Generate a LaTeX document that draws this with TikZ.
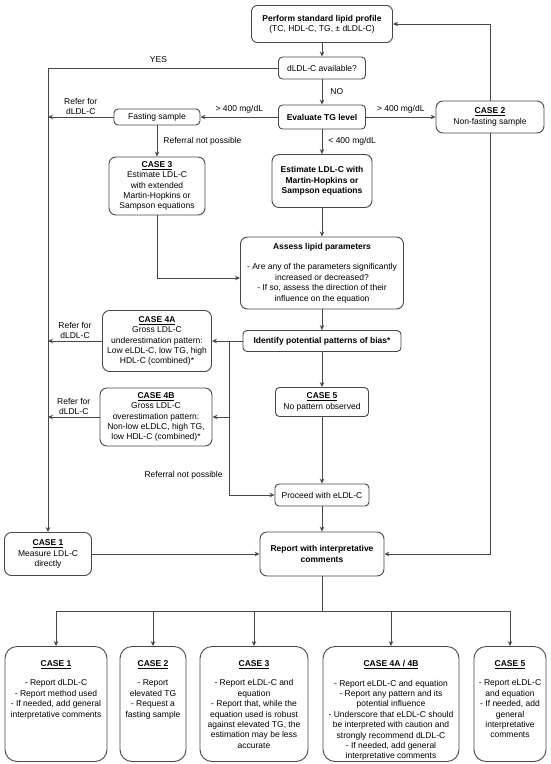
\documentclass[tikz,border=0pt]{standalone}
\usepackage{fontspec}
\setmainfont{Liberation Sans}
\usetikzlibrary{arrows.meta}

\newcommand{\casehead}[1]{\underline{\textbf{#1}}}
\newcommand{\outtext}[2]{\parbox[c][108pt][t]{#1}{\centering\vspace*{10.5pt}#2}}

\begin{document}
\begin{tikzpicture}[x=1pt,y=-1pt,
                    line width=0.9pt,
                    every node/.style={font=\fontsize{8.5}{10.4}\selectfont},
                    box/.style={draw=black!72,rounded corners=4pt,align=center,inner sep=2pt},
                    casebox/.style={box,rounded corners=7pt},
                    outbox/.style={draw=black!72,rounded corners=12pt,inner sep=3pt,minimum height=115pt},
                    arr/.style={draw=black!72,-{Stealth[length=5pt,width=4.5pt]}},
                    lbl/.style={align=center,inner sep=2pt}
                ]
                \useasboundingbox (0,0) rectangle (550,764);

                % The main column
                \node[box,minimum width=141pt,minimum height=37pt,rounded corners=6pt] (profile) at (322,24) {\textbf{Perform standard lipid profile}\\(TC, HDL-C, TG, ± dLDL-C)};
                \node[box,minimum width=87pt,minimum height=22pt] (dldl) at (322,68) {dLDL-C available?};
                \node[box,minimum width=87pt,minimum height=24pt] (tg) at (322,117) {\textbf{Evaluate TG level}};
                \node[casebox,minimum width=100pt,minimum height=53pt] (estimate) at (322,181) {\textbf{Estimate LDL-C with}\\\textbf{Martin-Hopkins or}\\\textbf{Sampson equations}};
                \node[casebox,minimum width=163pt,minimum height=72pt] (assess) at (322,273) {\textbf{Assess lipid parameters}\\[10pt]- Are any of the parameters significantly\\increased or decreased?\\- If so, assess the direction of their\\influence on the equation};
                \node[box,minimum width=158pt,minimum height=21pt] (identify) at (322,341) {\textbf{Identify potential patterns of bias*}};
                \node[box,minimum width=93pt,minimum height=29pt] (case5) at (322,402) {\casehead{CASE 5}\\No pattern observed};
                \node[box,minimum width=94pt,minimum height=22pt] (proceed) at (322,495) {Proceed with eLDL-C};
                \node[casebox,minimum width=124pt,minimum height=44pt] (report) at (322,554) {\textbf{Report with interpretative}\\\textbf{comments}};

                % The side boxes
                \node[casebox,minimum width=108pt,minimum height=32pt] (case2) at (490,117) {\casehead{CASE 2}\\Non-fasting sample};
                \node[box,minimum width=86pt,minimum height=16pt] (fasting) at (157,117) {Fasting sample};
                \node[casebox,minimum width=96pt,minimum height=58pt] (case3) at (157,186) {\casehead{CASE 3}\\Estimate LDL-C\\with extended\\Martin-Hopkins or\\Sampson equations};
                \node[casebox,minimum width=109pt,minimum height=61pt] (case4a) at (157,341) {\casehead{CASE 4A}\\Gross LDL-C\\underestimation pattern:\\Low eLDL-C, low TG, high\\HDL-C (combined)*};
                \node[casebox,minimum width=112pt,minimum height=58pt] (case4b) at (156,417) {\casehead{CASE 4B}\\Gross LDL-C\\overestimation pattern:\\Non-low eLDLC, high TG,\\low HDL-C (combined)*};
                \node[casebox,minimum width=87pt,minimum height=43pt] (case1) at (48,554) {\casehead{CASE 1}\\Measure LDL-C\\directly};

                % The outcome boxes
                \node[outbox] (out1) at (56,704) {\outtext{96pt}{\casehead{CASE 1}\\[9pt]- Report dLDL-C\\- Report method used\\- If needed, add general\\interpretative comments}};
                \node[outbox] (out2) at (153,704) {\outtext{60pt}{\casehead{CASE 2}\\[9pt]- Report\\elevated TG\\- Request a\\fasting sample}};
                \node[outbox] (out3) at (254,704) {\outtext{102pt}{\casehead{CASE 3}\\[9pt]- Report eLDL-C and\\equation\\- Report that, while the\\equation used is robust\\against elevated TG, the\\estimation may be less\\accurate}};
                \node[outbox] (out4) at (391,704) {\outtext{130pt}{\casehead{CASE 4A / 4B}\\[9pt]- Report eLDL-C and equation\\- Report any pattern and its\\potential influence\\- Underscore that eLDL-C should\\be interpreted with caution and\\strongly recommend dLDL-C\\- If needed, add general\\interpretative comments}};
                \node[outbox] (out5) at (510,704) {\outtext{66pt}{\casehead{CASE 5}\\[9pt]- Report eLDL-C\\and equation\\- If needed, add\\general\\interpretative\\comments}};

                % The connectors
                \draw[arr] (profile) -- (dldl);
                \draw[arr] (dldl) -- (tg) node[midway,right,lbl,xshift=6pt] {NO};
                \draw[arr] (dldl.west) -| (case1.north) node[pos=0.26,above,lbl,yshift=3pt] {YES};
                \draw[arr] (tg) -- (fasting) node[midway,above,lbl,yshift=1pt] {> 400 mg/dL};
                \draw[arr] (tg) -- (case2) node[midway,above,lbl,yshift=1pt] {> 400 mg/dL};
                \draw[arr] (case2.north) |- (profile.east);
                \draw[arr] (case2.south) |- (report.east);
                \draw[arr] (fasting.west) -- (fasting.west -| case1.north) node[midway,above,lbl] {Refer for\\dLDL-C};
                \draw[arr] (fasting) -- (case3) node[midway,right,lbl,xshift=4pt] {Referral not possible};
                \draw[arr] (case3.south) |- ([yshift=-5pt]assess.west);
                \draw[arr] (tg) -- (estimate) node[midway,right,lbl,xshift=4pt] {< 400 mg/dL};
                \draw[arr] (estimate) -- (assess);
                \draw[arr] (assess) -- (identify);
                \draw[arr] (identify) -- (case4a);
                \coordinate (split) at (229,341);
                \draw[arr] (split) |- (proceed.west) node[pos=0.435,left,lbl,xshift=-4pt] {Referral not possible};
                \draw[arr] (split |- case4b.east) -- (case4b.east);
                \draw[arr] (case4a.west) -- (case4a.west -| case1.north) node[midway,above,lbl] {Refer for\\dLDL-C};
                \draw[arr] (case4b.west) -- (case4b.west -| case1.north) node[midway,above,lbl] {Refer for\\dLDL-C};
                \draw[arr] (identify) -- (case5);
                \draw[arr] (case5) -- (proceed);
                \draw[arr] (proceed) -- (report);
                \draw[arr] (case1) -- (report);

                % The bus to the outcomes
                \coordinate (bus) at (322,611);
                \draw[draw=black!72] (report.south) -- (bus);
                \draw[draw=black!72] (out1.north |- bus) -- (out5.north |- bus);
                \foreach \b in {out1,out2,out3,out4,out5}
                    \draw[arr] (\b.north |- bus) -- (\b.north);
            \end{tikzpicture}
\end{document}
